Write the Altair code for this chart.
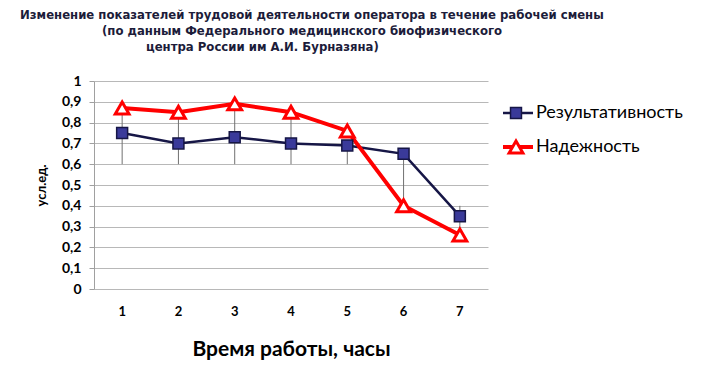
import altair as alt
import pandas as pd

hours = ["1", "2", "3", "4", "5", "6", "7"]
series_names = ["Результативность", "Надежность"]
effectiveness = [0.75, 0.70, 0.73, 0.70, 0.69, 0.65, 0.35]
reliability = [0.87, 0.85, 0.89, 0.85, 0.76, 0.40, 0.26]
range_low = [0.60, 0.60, 0.60, 0.60, 0.60, 0.40, 0.26]
range_high = [0.87, 0.85, 0.89, 0.85, 0.69, 0.65, 0.40]
y_ticks = [0, 0.1, 0.2, 0.3, 0.4, 0.5, 0.6, 0.7, 0.8, 0.9, 1.0]
title_lines = [
    "Изменение показателей трудовой деятельности оператора в течение рабочей смены",
    "(по данным  Федерального медицинского биофизического",
    "центра России им А.И. Бурназяна)",
]
x_title = "Время работы, часы"
y_title = "усл.ед."

navy_line = "#161646"
navy_fill = "#3a3a9a"
red = "#ff0000"

rows = []
for i, h in enumerate(hours):
    rows.append({"hour": h, "series": series_names[0], "value": effectiveness[i], "order": 0})
for i, h in enumerate(hours):
    rows.append({"hour": h, "series": series_names[1], "value": reliability[i], "order": 1})
df = pd.DataFrame(rows)
rng = pd.DataFrame({"hour": hours, "lo": range_low, "hi": range_high})

LAB_FONT = "Lato"
TITLE_FONT = "'Liberation Sans Narrow', 'DejaVu Sans Condensed', 'Liberation Sans', sans-serif"

x_axis = alt.Axis(
    title=x_title, labelAngle=0, labelFont=LAB_FONT, labelFontWeight="bold",
    labelFontSize=13, labelColor="#000", labelPadding=16, ticks=False,
    domain=False, grid=False, titleFont=LAB_FONT, titleFontSize=21, titleFontWeight="bold",
    titleColor="#000", titlePadding=20,
)
y_axis = alt.Axis(
    values=y_ticks, labelExpr="replace(format(datum.value, '.1~f'), '.', ',')",
    labelOverlap=False, title=y_title, labelFont=LAB_FONT,
    labelFontWeight="bold", labelFontSize=14, labelColor="#000",
    labelPadding=8, tickSize=5, tickColor="#a0a0a0", domainColor="#a0a0a0",
    grid=True, gridColor="#b8b8b8", gridWidth=1, titleFont=LAB_FONT, titleFontSize=13,
    titleFontWeight="bold", titleColor="#000", titlePadding=13,
)
x_scale = alt.Scale(paddingInner=0, paddingOuter=0)
y_scale = alt.Scale(domain=[0, 1], nice=False)

def X():
    return alt.X("hour:O", sort=hours, scale=x_scale, axis=x_axis)

def Y(field):
    return alt.Y(field, scale=y_scale, axis=y_axis)

rules = alt.Chart(rng).mark_rule(color="#707070", strokeWidth=1).encode(
    x=X(), y=Y("lo:Q"), y2="hi:Q"
)

color_scale = alt.Scale(domain=series_names, range=[navy_line, red])

lines = alt.Chart(df).mark_line().encode(
    x=X(),
    y=Y("value:Q"),
    color=alt.Color("series:N", scale=color_scale, legend=None),
    strokeWidth=alt.StrokeWidth("series:N", scale=alt.Scale(domain=series_names, range=[2.5, 4]), legend=None),
    order=alt.Order("order:Q"),
)

sq = alt.Chart(df).transform_filter(alt.datum.series == series_names[0]).mark_point(
    shape="square", size=120, fill=navy_fill, stroke=navy_line, strokeWidth=1.5, opacity=1, fillOpacity=1
).encode(x=X(), y=Y("value:Q"))

tri = alt.Chart(df).transform_filter(alt.datum.series == series_names[1]).mark_point(
    shape="triangle-up", size=190, fill="white", stroke=red, strokeWidth=3, opacity=1, fillOpacity=1
).encode(x=X(), y=Y("value:Q"))

layers = [lines, rules, sq, tri]

# title lines
title_pos = [(-74, -66), (8, -50), (52, -34)]
for t, (tx, ty) in zip(title_lines, title_pos):
    layers.append(
        alt.Chart(pd.DataFrame({"a": [0]})).mark_text(
            align="left", baseline="middle", font=TITLE_FONT,
            fontSize=13, fontWeight="bold", color="#1c1c3a",
        ).encode(x=alt.value(tx), y=alt.value(ty), text=alt.value(t))
    )

# legend
leg_y = [32, 66]
for i, name in enumerate(series_names):
    colr = [navy_line, red][i]
    sw = [2.5, 4][i]
    layers.append(
        alt.Chart(pd.DataFrame({"a": [0]})).mark_rule(color=colr, strokeWidth=sw).encode(
            x=alt.value(409), x2=alt.value(439), y=alt.value(leg_y[i])
        )
    )
    if i == 0:
        layers.append(
            alt.Chart(pd.DataFrame({"a": [0]})).mark_point(
                shape="square", size=120, fill=navy_fill, stroke=navy_line, strokeWidth=1.5, opacity=1
            ).encode(x=alt.value(422), y=alt.value(leg_y[i]))
        )
    else:
        layers.append(
            alt.Chart(pd.DataFrame({"a": [0]})).mark_point(
                shape="triangle-up", size=190, fill="white", stroke=red, strokeWidth=3, opacity=1
            ).encode(x=alt.value(422), y=alt.value(leg_y[i]))
        )
    layers.append(
        alt.Chart(pd.DataFrame({"a": [0]})).mark_text(
            align="left", baseline="middle", font=LAB_FONT, fontSize=18, color="#000",
        ).encode(x=alt.value(442), y=alt.value(leg_y[i]), text=alt.value(name))
    )

chart = alt.layer(*layers).properties(
    width=394, height=208,
    background="white",
    autosize=alt.AutoSizeParams(type="none"),
    padding={"left": 86, "top": 73, "right": 211, "bottom": 80},
).configure_view(stroke=None)

chart.save("out.html", embed_options={"renderer": "svg", "actions": False})
